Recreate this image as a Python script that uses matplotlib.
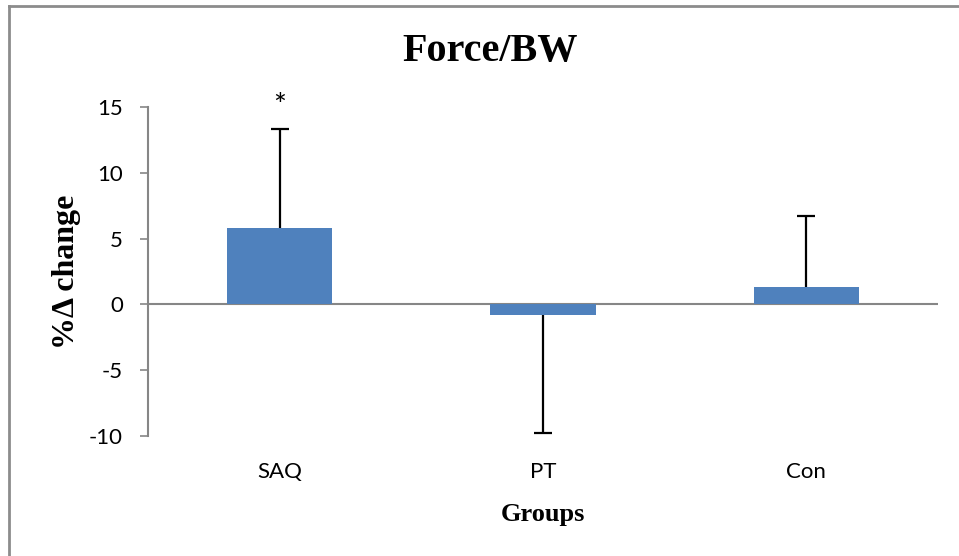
import numpy as np
import matplotlib
matplotlib.use("Agg")
import matplotlib.pyplot as plt
from matplotlib.lines import Line2D

# Data:
groups = ["SAQ", "PT", "Con"]
means = [5.8, -0.8, 1.3]
sd = [7.55, 9.0, 5.4]
direction = [1, -1, 1]  # error bar drawn only on the outer side
stars = ["*", "", ""]

# Colors:
bar_color = "#4f81bd"
axis_color = "#868686"
frame_color = "#8c8c8c"

serif = ["Liberation Serif", "DejaVu Serif"]
sans = ["Lato", "DejaVu Sans"]

fig = plt.figure(figsize=(9.59, 5.56), dpi=100)
ax = fig.add_axes([148 / 959, 1 - 436 / 556, (938 - 148) / 959, (436 - 107) / 556])

x = np.arange(len(groups))
ax.bar(x, means, width=0.4, color=bar_color, zorder=2)

ends = [m + d * s for m, d, s in zip(means, direction, sd)]
ax.vlines(x, means, ends, color="black", lw=1.6, zorder=3)
ax.plot(x, ends, ls="none", marker="_", ms=13, mew=1.6, color="black", zorder=3)

for xi, e, s in zip(x, ends, stars):
    if s:
        ax.text(xi, e + 1.7, s, ha="center", va="center", fontsize=22,
                family=sans)

ax.axhline(0, color=axis_color, lw=1.5, zorder=1)
ax.set_xlim(-0.5, 2.5)
ax.set_ylim(-10, 15)
ax.set_yticks([-10, -5, 0, 5, 10, 15])
ax.set_yticklabels(["-10", "-5", "0", "5", "10", "15"], family=sans, fontsize=16)
ax.set_xticks(x)
ax.set_xticklabels(groups, family=sans, fontsize=16)
ax.tick_params(axis="x", length=0, pad=19)
ax.tick_params(axis="y", length=6, width=1.2, color=axis_color, pad=12)

for side in ["top", "right", "bottom"]:
    ax.spines[side].set_visible(False)
ax.spines["left"].set_color(axis_color)
ax.spines["left"].set_linewidth(1.5)

ax.set_xlabel("Groups", family=serif, fontweight="bold", fontsize=19, labelpad=15)
ax.set_ylabel("%\u0394 change", family=serif, fontweight="bold", fontsize=23, labelpad=6)

fig.text(490 / 959, 1 - 52 / 556, "Force/BW", ha="center", va="center",
         family=serif, fontweight="bold", fontsize=29)

# Outer frame (top and left edges only)
fig.add_artist(Line2D([9 / 959, 958 / 959], [1 - 6 / 556, 1 - 6 / 556],
                      transform=fig.transFigure, color=frame_color, lw=2))
fig.add_artist(Line2D([9 / 959, 9 / 959], [0, 1 - 6 / 556],
                      transform=fig.transFigure, color=frame_color, lw=2))

fig.savefig("out.png", dpi=100, facecolor="white")
